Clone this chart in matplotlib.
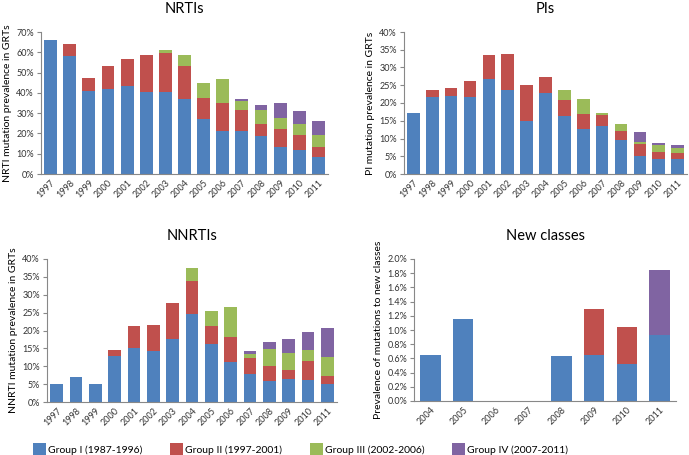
import numpy as np
import matplotlib.pyplot as plt
from matplotlib.patches import Patch

plt.rcParams['font.family'] = ['Lato', 'DejaVu Sans']

# ============================================================
# Data (percent, stacked segments per group)
# ============================================================
years = ['1997', '1998', '1999', '2000', '2001', '2002', '2003', '2004',
         '2005', '2006', '2007', '2008', '2009', '2010', '2011']
years_new = ['2004', '2005', '2006', '2007', '2008', '2009', '2010', '2011']

group_labels = ['Group I (1987-1996)', 'Group II (1997-2001)',
                'Group III (2002-2006)', 'Group IV (2007-2011)']

nrti_g1 = [66, 58, 41, 42, 43.5, 40.5, 40.5, 37, 27, 21, 21, 18.5, 13.5, 12, 8.5]
nrti_g2 = [0.3, 6, 6.5, 11, 13, 18, 19, 16, 10.5, 14, 10.5, 6, 8.5, 7, 5]
nrti_g3 = [0, 0, 0, 0, 0, 0.2, 1.5, 5.5, 7.5, 12, 4.5, 7, 5.5, 5.5, 5.5]
nrti_g4 = [0, 0, 0, 0, 0, 0, 0, 0, 0, 0, 1, 2.5, 7.5, 6.5, 7]

pi_g1 = [17.3, 21.8, 22, 21.8, 26.7, 23.6, 15, 22.8, 16.2, 12.6, 13.5, 9.6, 5.2, 4.1, 4.1]
pi_g2 = [0, 2, 2.3, 4.4, 6.9, 10.3, 10, 4.4, 4.6, 4.3, 3.2, 2.6, 3.2, 2.1, 1.8]
pi_g3 = [0, 0, 0, 0, 0, 0, 0, 0, 2.9, 4.1, 0.6, 1.8, 0.7, 2.0, 1.4]
pi_g4 = [0, 0, 0, 0, 0, 0, 0, 0, 0, 0, 0, 0, 2.6, 0.5, 1.0]

nnrti_g1 = [5, 7, 5, 13, 15.2, 14.3, 17.7, 24.5, 16.2, 11.2, 7.8, 5.8, 6.5, 6.2, 5.1]
nnrti_g2 = [0, 0, 0, 1.5, 6.1, 7.2, 10, 9.3, 5.1, 7.1, 4.4, 4.4, 2.5, 5.2, 2.3]
nnrti_g3 = [0, 0, 0, 0, 0, 0, 0, 3.8, 4.1, 8.4, 1.3, 4.5, 4.6, 3.1, 5.1]
nnrti_g4 = [0, 0, 0, 0, 0, 0, 0, 0, 0, 0, 0.7, 2.0, 3.9, 5.2, 8.3]

new_g1 = [0.65, 1.16, 0, 0, 0.64, 0.65, 0.52, 0.93]
new_g2 = [0, 0, 0, 0, 0, 0.65, 0.52, 0]
new_g3 = [0, 0, 0, 0, 0, 0, 0, 0]
new_g4 = [0, 0, 0, 0, 0, 0, 0, 0.92]

colors = ['#4F81BD', '#C0504D', '#9BBB59', '#8064A2']


# ============================================================
# Panel helper
# ============================================================
def stacked_panel(ax, cats, groups, title, ylabel, ymax, ystep, fmt, width=0.67):
    x = np.arange(len(cats))
    bottom = np.zeros(len(cats))
    for vals, col in zip(groups, colors):
        vals = np.array(vals, dtype=float)
        ax.bar(x, vals, width=width, bottom=bottom, color=col, edgecolor='none')
        bottom += vals
    ax.set_xlim(-0.5, len(cats) - 0.5)
    ax.set_ylim(0, ymax)
    yt = np.arange(0, ymax + ystep / 2, ystep)
    ax.set_yticks(yt)
    ax.set_yticklabels([fmt.format(v) for v in yt], fontsize=6.5, color='#333333')
    ax.set_xticks(x)
    ax.set_xticklabels(cats, rotation=45, ha='right', rotation_mode='anchor',
                       fontsize=6.5, color='#333333')
    ax.tick_params(axis='x', length=0, pad=3)
    ax.tick_params(axis='y', length=3, width=0.8, color='#888888', pad=2)
    for s in ['top', 'right']:
        ax.spines[s].set_visible(False)
    for s in ['left', 'bottom']:
        ax.spines[s].set_color('#888888')
        ax.spines[s].set_linewidth(0.8)
    ax.set_title(title, fontsize=10.5, pad=14)
    ax.set_ylabel(ylabel, fontsize=7.5, labelpad=3)


fig = plt.figure(figsize=(6.89, 4.55), dpi=100)

ax1 = fig.add_axes([41 / 689, 1 - 174 / 455, 287 / 689, 142 / 455])
ax2 = fig.add_axes([404 / 689, 1 - 174 / 455, 283 / 689, 142 / 455])
ax3 = fig.add_axes([47 / 689, 1 - 402 / 455, 290 / 689, 143 / 455])
ax4 = fig.add_axes([414 / 689, 1 - 401 / 455, 262 / 689, 142 / 455])

stacked_panel(ax1, years, [nrti_g1, nrti_g2, nrti_g3, nrti_g4], 'NRTIs',
              'NRTI mutation prevalence in GRTs', 70, 10, '{:.0f}%')
stacked_panel(ax2, years, [pi_g1, pi_g2, pi_g3, pi_g4], 'PIs',
              'PI mutation prevalence in GRTs', 40, 5, '{:.0f}%')
stacked_panel(ax3, years, [nnrti_g1, nnrti_g2, nnrti_g3, nnrti_g4], 'NNRTIs',
              'NNRTI mutation prevalence in GRTs', 40, 5, '{:.0f}%')
stacked_panel(ax4, years_new, [new_g1, new_g2, new_g3, new_g4], 'New classes',
              'Prevalence of mutations to new classes', 2.0, 0.2, '{:.1f}%', width=0.62)

handles = [Patch(facecolor=c, edgecolor='none') for c in colors]
fig.legend(handles, group_labels, loc='center left', bbox_to_anchor=(26 / 689, 1 - 449 / 455),
           ncol=4, frameon=False, fontsize=7.5, handlelength=1.25, handleheight=1.25,
           handletextpad=0.15, columnspacing=2.7, borderpad=0.2)

fig.savefig('out.png', dpi=100)
